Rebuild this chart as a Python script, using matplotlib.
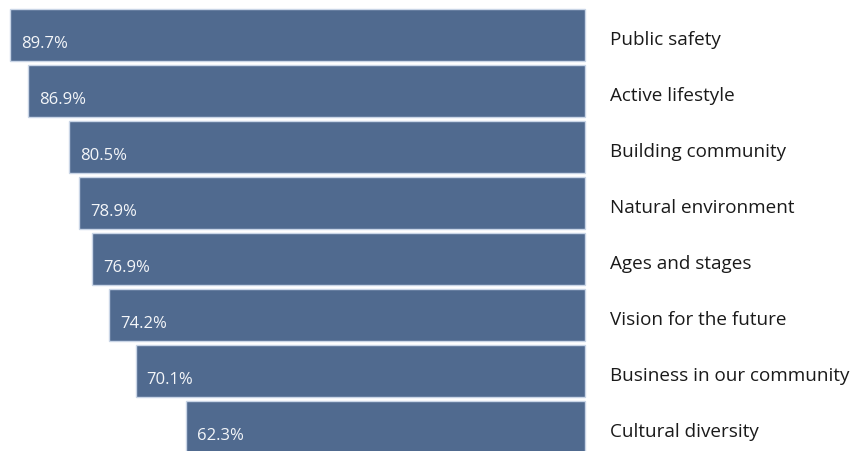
import matplotlib.pyplot as plt

categories = ["Public safety", "Active lifestyle", "Building community",
              "Natural environment", "Ages and stages", "Vision for the future",
              "Business in our community", "Cultural diversity"]
values = [89.7, 86.9, 80.5, 78.9, 76.9, 74.2, 70.1, 62.3]

plt.rcParams['font.family'] = ['Open Sans', 'DejaVu Sans']

fig = plt.figure(figsize=(8.54, 4.51), dpi=100)
ax = fig.add_axes([0, 0, 1, 1])

ypos = list(range(len(values)))
ax.barh(ypos, values, height=0.93, left=0, color="#506a8f",
        edgecolor="#c9d5e6", linewidth=1.0)

for y, v, cat in zip(ypos, values, categories):
    ax.annotate(f"{v}%", (v, y), xytext=(11, -9), textcoords="offset pixels",
                ha="left", va="center", color="#f4f6f9", fontsize=12)
    ax.annotate(cat, (0, y), xytext=(25, -5), textcoords="offset pixels",
                ha="left", va="center", color="#1a1a1a", fontsize=13.6)

# zero sits at the right edge of the bars, bars grow leftwards
ax.set_xlim(91.26, -41.97)
ax.set_ylim(7.43, -0.625)
ax.axis("off")

fig.savefig("out.png", dpi=100, facecolor="white")
